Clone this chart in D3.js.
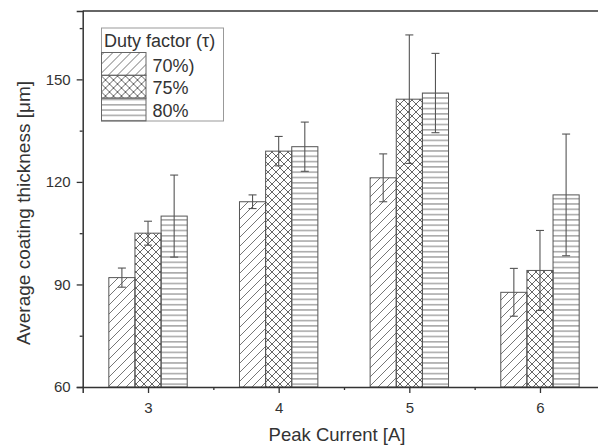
<!DOCTYPE html>
<html>
<head>
<meta charset="utf-8">
<title>Coating thickness</title>
<script src="https://d3js.org/d3.v7.min.js"></script>
<style>
body { margin: 0; background: #fff; overflow: hidden; }
svg { display: block; font-family: "Liberation Sans", Arial, sans-serif; }
.tick text { fill: #333; font-size: 15px; }
.tick line, .domain { stroke: #333; }
</style>
</head>
<body>
<div id="chart"></div>
<script>
// data
var currents = [3, 4, 5, 6];
var duties = ["70%)", "75%", "80%"];
var means70 = [92, 114.2, 121.2, 87.7];
var err70 = [2.8, 2.0, 7, 7];
var means75 = [105, 129, 144.2, 94.1];
var err75 = [3.5, 4.3, 18.8, 11.7];
var means80 = [110, 130.3, 146, 116.2];
var err80 = [12, 7.2, 11.6, 17.8];
var yTicks = [60, 90, 120, 150];
var yMinor = [75, 105, 135, 165];
var xMinor = [3.5, 4.5, 5.5];

var series = [
  {name: duties[0], pat: "hatch", means: means70, errs: err70, off: -0.2},
  {name: duties[1], pat: "cross", means: means75, errs: err75, off: 0},
  {name: duties[2], pat: "horiz", means: means80, errs: err80, off: 0.2}
];

var W = 598, H = 445;
var svg = d3.select("#chart").append("svg")
  .attr("width", W).attr("height", H);

// patterns
var defs = svg.append("defs");
var p1 = defs.append("pattern").attr("id", "hatch")
  .attr("patternUnits", "userSpaceOnUse").attr("width", 9).attr("height", 9);
p1.append("path").attr("d", "M-1,10 L10,-1 M-2,2 L2,-2 M7,11 L11,7")
  .attr("stroke", "#666").attr("stroke-width", 0.9);
var p2 = defs.append("pattern").attr("id", "cross")
  .attr("patternUnits", "userSpaceOnUse").attr("width", 8).attr("height", 8);
p2.append("path").attr("d", "M0,0 L8,8 M8,0 L0,8")
  .attr("stroke", "#555").attr("stroke-width", 0.9);
var p3 = defs.append("pattern").attr("id", "horiz")
  .attr("patternUnits", "userSpaceOnUse").attr("width", 8).attr("height", 5.3);
p3.append("path").attr("d", "M0,2.6 L8,2.6")
  .attr("stroke", "#777").attr("stroke-width", 1);

// plot extends a little beyond the right edge, like the cropped original
var x = d3.scaleLinear().domain([2.5, 6.5]).range([82.7, 605.3]);
var y = d3.scaleLinear().domain([60, 170]).range([387, 11]);
var bw = x(3.2) - x(3);

// bars
series.forEach(function(s) {
  var g = svg.append("g");
  g.selectAll("rect").data(currents).enter().append("rect")
    .attr("x", function(d) { return x(d + s.off) - bw / 2; })
    .attr("y", function(d, i) { return y(s.means[i]); })
    .attr("width", bw)
    .attr("height", function(d, i) { return y(60) - y(s.means[i]); })
    .attr("fill", "url(#" + s.pat + ")")
    .attr("stroke", "#555").attr("stroke-width", 1);
});

// error bars
series.forEach(function(s) {
  var g = svg.append("g").attr("stroke", "#555").attr("stroke-width", 1.1);
  currents.forEach(function(c, i) {
    var cx = x(c + s.off);
    var lo = y(s.means[i] - s.errs[i]), hi = y(s.means[i] + s.errs[i]);
    g.append("line").attr("x1", cx).attr("x2", cx).attr("y1", lo).attr("y2", hi);
    g.append("line").attr("x1", cx - 4).attr("x2", cx + 4).attr("y1", lo).attr("y2", lo);
    g.append("line").attr("x1", cx - 4).attr("x2", cx + 4).attr("y1", hi).attr("y2", hi);
  });
});

// frame top
svg.append("line").attr("x1", x(2.5)).attr("x2", x(6.5))
  .attr("y1", y(170)).attr("y2", y(170))
  .attr("stroke", "#333").attr("stroke-width", 1.5);

// axes
svg.append("g").attr("transform", "translate(" + x(2.5) + ",0)")
  .call(d3.axisLeft(y).tickValues(yTicks).tickSize(6).tickPadding(6));
svg.append("g").attr("transform", "translate(" + x(2.5) + ",0)")
  .call(d3.axisLeft(y).tickValues(yMinor).tickSize(3).tickFormat(""))
  .select(".domain").remove();
svg.append("g").attr("transform", "translate(0," + y(60) + ")")
  .call(d3.axisBottom(x).tickValues(currents).tickSize(6).tickPadding(9)
    .tickFormat(d3.format("d")));
svg.append("g").attr("transform", "translate(0," + y(60) + ")")
  .call(d3.axisBottom(x).tickValues(xMinor).tickSize(3).tickFormat(""))
  .select(".domain").remove();
svg.selectAll(".domain").attr("stroke-width", 1.5);
svg.selectAll(".tick line").attr("stroke-width", 1.3);

// axis titles
svg.append("text").attr("x", 337).attr("y", 441)
  .attr("text-anchor", "middle").attr("font-size", 18.5).attr("fill", "#333")
  .text("Peak Current [A]");
svg.append("text").attr("transform", "translate(30,213) rotate(-90)")
  .attr("text-anchor", "middle").attr("font-size", 19).attr("fill", "#333")
  .text("Average coating thickness [\u03bcm]");

// legend
var lg = svg.append("g").attr("transform", "translate(101.5,28)");
lg.append("rect").attr("width", 122).attr("height", 93)
  .attr("fill", "#fff").attr("stroke", "#999").attr("stroke-width", 1);
lg.append("text").attr("x", 2.5).attr("y", 19).attr("font-size", 18).attr("fill", "#333")
  .text("Duty factor (\u03c4)");
series.forEach(function(s, i) {
  var top = 24.5 + i * 22.8;
  lg.append("rect").attr("x", 0).attr("y", top).attr("width", 44.5).attr("height", 22.8)
    .attr("fill", "url(#" + s.pat + ")").attr("stroke", "#666").attr("stroke-width", 1);
  lg.append("text").attr("x", 51).attr("y", top + 19).attr("font-size", 18).attr("fill", "#333")
    .text(s.name);
});
</script>
</body>
</html>
